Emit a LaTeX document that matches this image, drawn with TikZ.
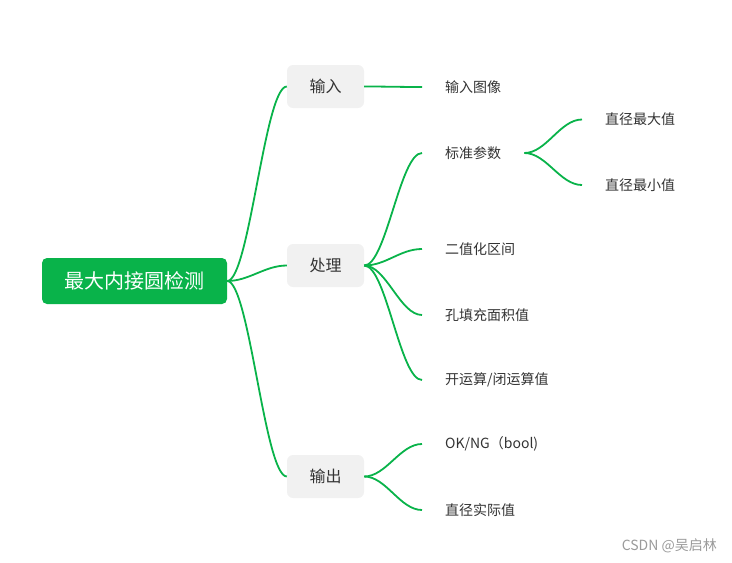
\documentclass[tikz,border=0pt]{standalone}
\usepackage{fontspec}
\setmainfont{Noto Sans CJK SC}
\definecolor{mmgreen}{HTML}{09B34A}
\definecolor{lvlgray}{HTML}{F1F1F1}
\definecolor{txtgray}{HTML}{333333}
\definecolor{wmgray}{HTML}{9A9A9A}
\tikzset{
  rootbox/.style={fill=mmgreen, rounded corners=5pt, minimum width=185pt, minimum height=46pt, inner sep=0pt, text=white, font=\fontsize{20}{23}\selectfont},
  lvlbox/.style={fill=lvlgray, rounded corners=6pt, minimum width=77pt, minimum height=43pt, inner sep=0pt, text=txtgray, font=\fontsize{16}{19}\selectfont},
  leafbox/.style={anchor=west, inner xsep=23pt, inner ysep=4pt, text=txtgray, font=\fontsize{14}{16}\selectfont},
  conn/.style={draw=mmgreen, line width=1.8pt},
}
\begin{document}
\begin{tikzpicture}[x=1pt,y=-1pt]
\useasboundingbox (0,0) rectangle (732,563);
\node[rootbox] (root) at (134.5,281) {最大内接圆检测};
\node[lvlbox] (in) at (325.5,86.5) {输入};
\node[lvlbox] (proc) at (325.5,265.5) {处理};
\node[lvlbox] (out) at (325.5,476.5) {输出};
\node[leafbox] (img) at (422,87) {输入图像};
\node[leafbox] (std) at (422,153) {标准参数};
\node[leafbox] (bin) at (422,249) {二值化区间};
\node[leafbox] (hole) at (422,315) {孔填充面积值};
\node[leafbox] (morph) at (422,380) {开运算/闭运算值};
\node[leafbox] (ok) at (422,444) {OK/NG（bool)};
\node[leafbox] (dia) at (422,510) {直径实际值};
\node[leafbox] (dmax) at (582,119.5) {直径最大值};
\node[leafbox] (dmin) at (582,185) {直径最小值};
\node[anchor=east, inner sep=0pt, text=wmgray, font=\fontsize{14}{16}\selectfont] (wm) at (717,546) {CSDN @吴启林};
\foreach \a/\b in {root/in, root/proc, root/out, in/img, proc/std, proc/bin, proc/hole, proc/morph, out/ok, out/dia, std/dmax, std/dmin}{
  \draw[conn] (\a.east) .. controls +(22,0) and +(-22,0) .. (\b.west);
}
\end{tikzpicture}
\end{document}
